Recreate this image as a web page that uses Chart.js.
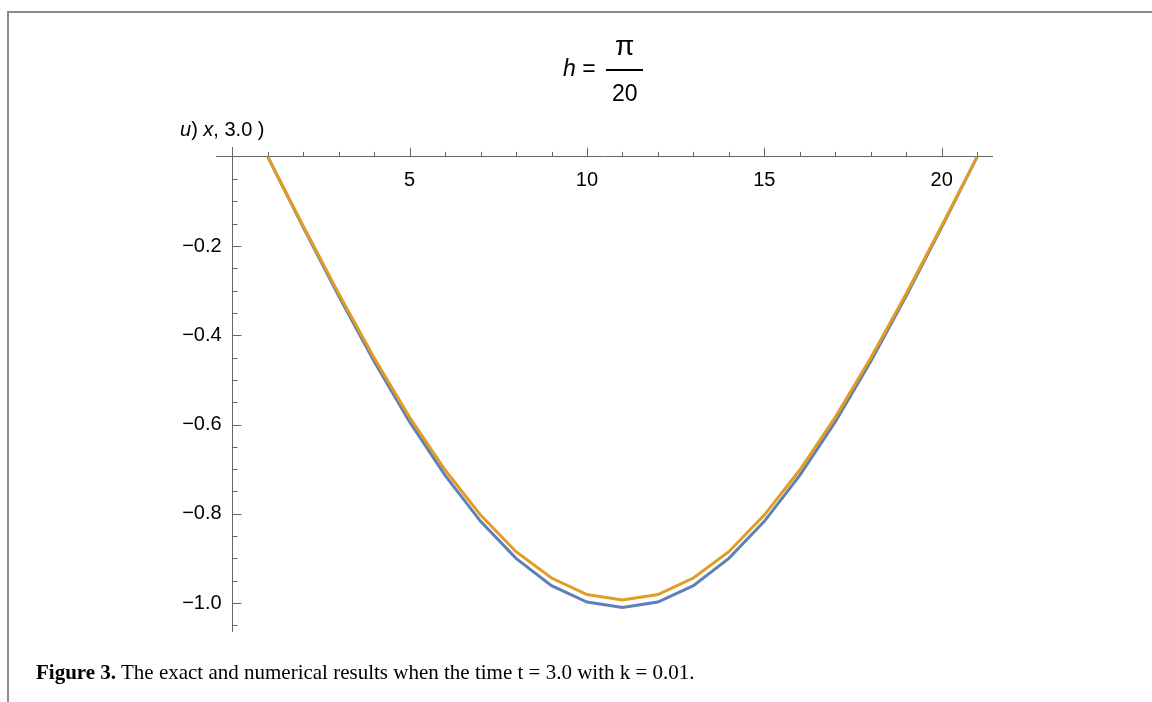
<!DOCTYPE html>
<html>
<head>
<meta charset="utf-8">
<title>Figure 3</title>
<script src="https://cdn.jsdelivr.net/npm/chart.js@4"></script>
<style>
    html, body {
        margin: 0;
        padding: 0;
        background: #ffffff;
        width: 1152px;
        height: 702px;
        overflow: hidden;
    }
    #frame {
        position: absolute;
        left: 7px;
        top: 11px;
        width: 1160px;
        height: 700px;
        border-top: 2px solid #8c8c8c;
        border-left: 2px solid #8c8c8c;
    }
    #plot {
        position: absolute;
        left: 0;
        top: 0;
    }
    .sans {
        position: absolute;
        font-family: "Liberation Sans", Arial, sans-serif;
        color: #000;
        line-height: 26px;
        white-space: pre;
    }
    #fracBar {
        position: absolute;
        left: 606px;
        top: 69px;
        width: 37px;
        height: 1.5px;
        background: #000;
    }
    #caption {
        position: absolute;
        left: 36px;
        top: 660px;
        font-family: "Liberation Serif", "Times New Roman", serif;
        font-size: 21px;
        color: #000;
        white-space: pre;
    }
</style>
</head>
<body>
<div id="frame"></div>
<canvas id="plot" width="1152" height="702"></canvas>
<div class="sans" style="left:563px; top:55px; font-size:23px;"><i>h</i> =</div>
<div class="sans" style="left:615px; top:31px; font-size:28px; line-height:30px;">π</div>
<div id="fracBar"></div>
<div class="sans" style="left:612px; top:80px; font-size:23px;">20</div>
<div class="sans" style="left:180px; top:116px; font-size:20px;"><i>u</i>) <i>x</i>, 3.0 )</div>
<div id="caption"><b>Figure 3.</b> The exact and numerical results when the time t = 3.0 with k = 0.01.</div>

<script>
// grid points along x
const xValues = [1, 2, 3, 4, 5, 6, 7, 8, 9, 10, 11, 12, 13, 14, 15, 16, 17, 18, 19, 20, 21];

// exact solution (blue)
const exactValues = [0, -0.158, -0.312, -0.459, -0.594, -0.714, -0.817, -0.900, -0.961, -0.998, -1.010,
    -0.998, -0.961, -0.900, -0.817, -0.714, -0.594, -0.459, -0.312, -0.158, 0];

// numerical solution (orange)
const numericValues = [0, -0.155, -0.307, -0.451, -0.584, -0.702, -0.803, -0.885, -0.944, -0.981, -0.993,
    -0.981, -0.944, -0.885, -0.803, -0.702, -0.584, -0.451, -0.307, -0.155, 0];

// labelled ticks
const xTickLabels = [5, 10, 15, 20];
const yTickLabels = [-0.2, -0.4, -0.6, -0.8, -1.0];

const axisColor = "#666666";

// y axis line plus Mathematica style tick marks (x ticks point up, y ticks point right)
const tickMarks = {
    id: "tickMarks",
    beforeDatasetsDraw(chart) {
        const { ctx, chartArea, scales: { x, y } } = chart;
        const xAxisPx = y.getPixelForValue(0);
        const yAxisPx = Math.round(x.getPixelForValue(0)) + 0.5;
        ctx.save();
        ctx.strokeStyle = axisColor;
        ctx.lineWidth = 1;
        ctx.beginPath();
        ctx.moveTo(yAxisPx, chartArea.top);
        ctx.lineTo(yAxisPx, chartArea.bottom);
        for (let i = 1; i <= 21; i++) {
            const px = Math.round(x.getPixelForValue(i)) + 0.5;
            const len = i % 5 === 0 ? 9 : 5;
            ctx.moveTo(px, xAxisPx);
            ctx.lineTo(px, xAxisPx - len);
        }
        for (let k = 1; k <= 21; k++) {
            const py = Math.round(y.getPixelForValue(-k * 0.05)) + 0.5;
            const len = k % 4 === 0 ? 9 : 5;
            ctx.moveTo(yAxisPx, py);
            ctx.lineTo(yAxisPx + len, py);
        }
        ctx.stroke();
        ctx.restore();
    },
};

const ctx = document.getElementById("plot").getContext("2d");

new Chart(ctx, {
    type: "line",
    data: {
        datasets: [
            {
                label: "Exact",
                data: xValues.map((xv, i) => ({ x: xv, y: exactValues[i] })),
                borderColor: "#5e81b5",
                borderWidth: 3,
                pointRadius: 0,
                tension: 0,
                fill: false,
                order: 1,
            },
            {
                label: "Numerical",
                data: xValues.map((xv, i) => ({ x: xv, y: numericValues[i] })),
                borderColor: "#e19c24",
                borderWidth: 3,
                pointRadius: 0,
                tension: 0,
                fill: false,
                order: 0,
            },
        ],
    },
    options: {
        responsive: false,
        animation: false,
        devicePixelRatio: 1,
        layout: {
            padding: { left: 216, top: 147, right: 160, bottom: 70 },
        },
        scales: {
            x: {
                type: "linear",
                position: { y: 0 },
                min: -0.46,
                max: 21.42,
                afterBuildTicks: (scale) => {
                    scale.ticks = xTickLabels.map((v) => ({ value: v }));
                },
                grid: { drawOnChartArea: false, drawTicks: false },
                border: { display: true, color: axisColor, width: 1 },
                ticks: {
                    padding: 12,
                    color: "#000",
                    font: { family: "Liberation Sans", size: 20 },
                    maxRotation: 0,
                    callback: (v) => String(v),
                },
            },
            y: {
                type: "linear",
                // labels sit just left of the axis line (drawn by the plugin at x = 0)
                position: { x: -0.3 },
                min: -1.065,
                max: 0.022,
                afterBuildTicks: (scale) => {
                    scale.ticks = yTickLabels.map((v) => ({ value: v }));
                },
                grid: { drawOnChartArea: false, drawTicks: false },
                border: { display: false },
                ticks: {
                    color: "#000",
                    font: { family: "Liberation Sans", size: 20 },
                    callback: (v) => "\u2212" + Math.abs(v).toFixed(1),
                },
            },
        },
        plugins: {
            legend: { display: false },
            title: { display: false },
            tooltip: { enabled: false },
        },
    },
    plugins: [tickMarks],
});
</script>
</body>
</html>
